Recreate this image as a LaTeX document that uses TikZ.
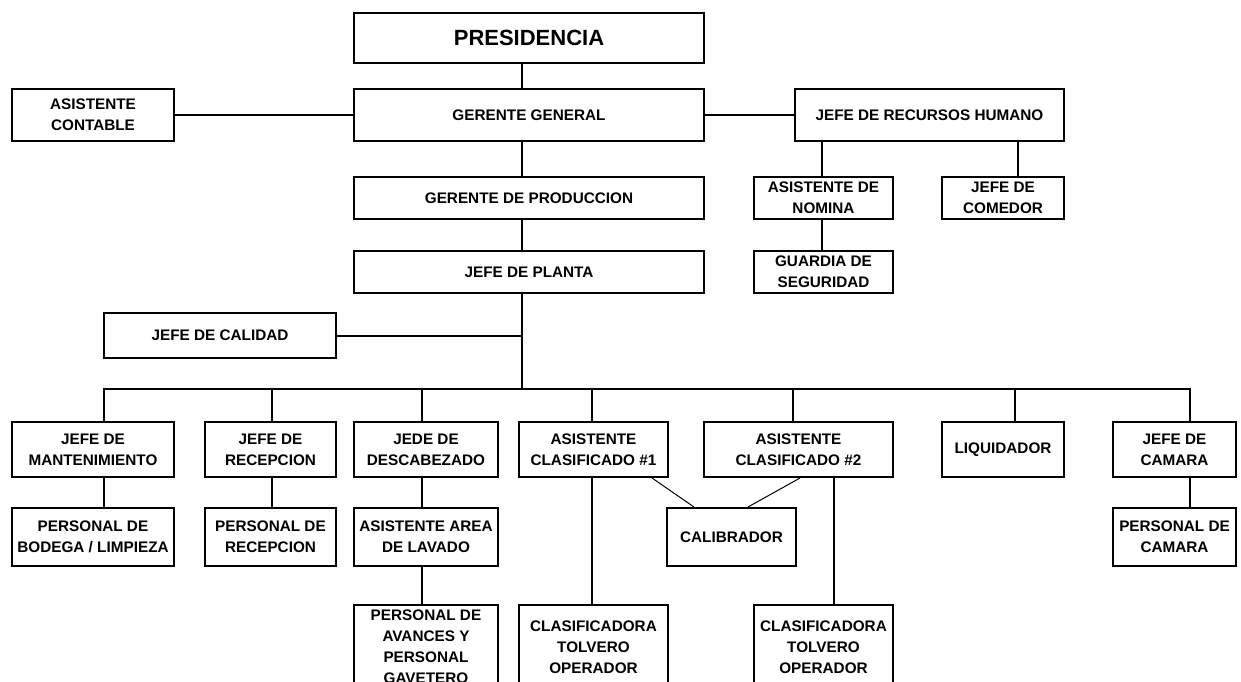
\documentclass[tikz,border=0pt]{standalone}
\usepackage{fontspec}
\setmainfont{Liberation Sans}

\begin{document}
\begin{tikzpicture}[x=1pt, y=-1pt, line width=2pt,
    box/.style={draw, line width=2pt, inner sep=1pt, align=center,
                font=\fontsize{15.3}{21}\selectfont\bfseries},
    thinline/.style={line width=1pt}]
    \useasboundingbox (0,0) rectangle (1241,682);

    % Top of the chart
    \node[box, minimum width=350, minimum height=50,
          font=\fontsize{22}{26}\selectfont\bfseries] (pres) at (529,38) {PRESIDENCIA};
    \node[box, minimum width=350, minimum height=52] (gg) at (529,115) {GERENTE GENERAL};
    \node[box, minimum width=162, minimum height=52] (asco) at (93,115) {ASISTENTE\\CONTABLE};
    \node[box, minimum width=269, minimum height=52] (rrhh) at (929.5,115) {JEFE DE RECURSOS HUMANO};
    \node[box, minimum width=350, minimum height=42] (gp) at (529,198) {GERENTE DE PRODUCCION};
    \node[box, minimum width=350, minimum height=42] (plan) at (529,272) {JEFE DE PLANTA};
    \node[box, minimum width=232, minimum height=45] (cal) at (220,335.5) {JEFE DE CALIDAD};

    % Recursos humanos
    \node[box, minimum width=139, minimum height=42] (nom) at (823.5,198) {ASISTENTE DE\\NOMINA};
    \node[box, minimum width=122, minimum height=42] (com) at (1003,198) {JEFE DE\\COMEDOR};
    \node[box, minimum width=139, minimum height=42] (seg) at (823.5,272) {GUARDIA DE\\SEGURIDAD};

    % First row
    \node[box, minimum width=162, minimum height=55] (mant) at (93,449.5) {JEFE DE\\MANTENIMIENTO};
    \node[box, minimum width=131, minimum height=55] (rec) at (270.5,449.5) {JEFE DE\\RECEPCION};
    \node[box, minimum width=144, minimum height=55] (desc) at (426,449.5) {JEDE DE\\DESCABEZADO};
    \node[box, minimum width=149, minimum height=55] (ac1) at (593.5,449.5) {ASISTENTE\\CLASIFICADO \#1};
    \node[box, minimum width=189, minimum height=55] (ac2) at (798.5,449.5) {ASISTENTE\\CLASIFICADO \#2};
    \node[box, minimum width=122, minimum height=55] (liq) at (1003,449.5) {LIQUIDADOR};
    \node[box, minimum width=123, minimum height=55] (jcam) at (1174.5,449.5) {JEFE DE\\CAMARA};

    % Second row
    \node[box, minimum width=162, minimum height=58] (bod) at (93,537) {PERSONAL DE\\BODEGA / LIMPIEZA};
    \node[box, minimum width=131, minimum height=58] (prec) at (270.5,537) {PERSONAL DE\\RECEPCION};
    \node[box, minimum width=144, minimum height=58] (lav) at (426,537) {ASISTENTE AREA\\DE LAVADO};
    \node[box, minimum width=129, minimum height=58] (calib) at (731.5,537) {CALIBRADOR};
    \node[box, minimum width=123, minimum height=58] (pcam) at (1174.5,537) {PERSONAL DE\\CAMARA};

    % Third row (runs off the page)
    \node[box, minimum width=144, minimum height=84] (avan) at (426,647) {PERSONAL DE\\AVANCES Y\\PERSONAL\\GAVETERO};
    \node[box, minimum width=149, minimum height=84] (cl1) at (593.5,647) {CLASIFICADORA\\TOLVERO\\OPERADOR};
    \node[box, minimum width=139, minimum height=84] (cl2) at (823.5,647) {CLASIFICADORA\\TOLVERO\\OPERADOR};

    % Connection points
    \coordinate (trunk) at (522,0);
    \coordinate (rh1) at (822,0);
    \coordinate (rh2) at (1018,0);
    \coordinate (b1) at (104,389);
    \coordinate (b2) at (272,389);
    \coordinate (b3) at (422,389);
    \coordinate (b4) at (592,389);
    \coordinate (b5) at (793,389);
    \coordinate (b6) at (1015,389);
    \coordinate (b7) at (1190,389);
    \coordinate (cl2x) at (834,0);

    % Main line
    \draw (pres.south -| trunk) -- (gg.north -| trunk);
    \draw (gg.south -| trunk) -- (gp.north -| trunk);
    \draw (gp.south -| trunk) -- (plan.north -| trunk);
    \draw (plan.south -| trunk) -- (trunk |- b1);
    \draw (asco.east) -- (gg.west);
    \draw (gg.east) -- (rrhh.west);
    \draw (cal.east) -- (cal.east -| trunk);

    % Recursos humanos lines
    \draw (rrhh.south -| rh1) -- (nom.north -| rh1);
    \draw (nom.south -| rh1) -- (seg.north -| rh1);
    \draw (rrhh.south -| rh2) -- (com.north -| rh2);

    % Bus and drops
    \draw (b1 |- mant.north) -- (b1) -- (b7) -- (b7 |- jcam.north);
    \draw (b2) -- (b2 |- rec.north);
    \draw (b3) -- (b3 |- desc.north);
    \draw (b4) -- (b4 |- ac1.north);
    \draw (b5) -- (b5 |- ac2.north);
    \draw (b6) -- (b6 |- liq.north);

    % Lower lines
    \draw (b1 |- mant.south) -- (b1 |- bod.north);
    \draw (b2 |- rec.south) -- (b2 |- prec.north);
    \draw (b3 |- desc.south) -- (b3 |- lav.north);
    \draw (b3 |- lav.south) -- (b3 |- avan.north);
    \draw (b4 |- ac1.south) -- (b4 |- cl1.north);
    \draw (ac2.south -| cl2x) -- (cl2.north -| cl2x);
    \draw (b7 |- jcam.south) -- (b7 |- pcam.north);

    % Calibrador
    \draw[thinline] ([xshift=-17]ac1.south east) -- ([xshift=28]calib.north west);
    \draw[thinline] ([xshift=1.5]ac2.south) -- ([xshift=-49]calib.north east);
\end{tikzpicture}
\end{document}
